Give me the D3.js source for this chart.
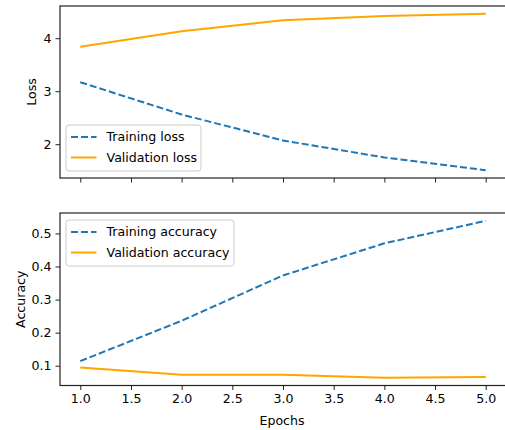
<!DOCTYPE html>
<html>
<head>
<meta charset="utf-8">
<script src="https://cdn.jsdelivr.net/npm/d3@7"></script>
<style>
  body { margin: 0; background: #fff; }
  svg { display: block; font-family: "DejaVu Sans", sans-serif; }
</style>
</head>
<body>
<div id="chart"></div>
<script>
// data
const epochs = [1, 2, 3, 4, 5];
const trainLoss = [3.17, 2.56, 2.07, 1.75, 1.51];
const valLoss = [3.84, 4.13, 4.34, 4.42, 4.46];
const trainAcc = [0.114, 0.236, 0.373, 0.470, 0.538];
const valAcc = [0.095, 0.073, 0.073, 0.064, 0.066];
const xTicks = [1.0, 1.5, 2.0, 2.5, 3.0, 3.5, 4.0, 4.5, 5.0];
const lossTicks = [2, 3, 4];
const accTicks = [0.1, 0.2, 0.3, 0.4, 0.5];

const W = 505, H = 430;
const left = 60, right = 506;
const fs = 12.6;
const blue = "#1f77b4", orange = "#ffa500";

const svg = d3.select("#chart").append("svg")
  .attr("width", W).attr("height", H);

const x = d3.scaleLinear().domain([0.8, 5.2]).range([left, right]);

function panel(top, bottom, yDomain, yTicks, yFmt, yLabel, series, legendItems, legendW, showX) {
  const y = d3.scaleLinear().domain(yDomain).range([bottom, top]);
  const g = svg.append("g");

  const line = d3.line().x((d, i) => x(epochs[i])).y(d => y(d));

  series.forEach(s => {
    g.append("path")
      .datum(s.values)
      .attr("fill", "none")
      .attr("stroke", s.color)
      .attr("stroke-width", 2)
      .attr("stroke-dasharray", s.dash ? "7,3" : null)
      .attr("d", line);
  });

  // y axis
  const ya = g.append("g")
    .attr("transform", `translate(${left},0)`)
    .call(d3.axisLeft(y).tickValues(yTicks).tickFormat(yFmt).tickSize(4.5).tickPadding(4).tickSizeOuter(0));
  ya.select(".domain").remove();
  ya.selectAll("line").attr("stroke", "#222");
  ya.selectAll("text").attr("font-size", fs).attr("fill", "#000").attr("font-family", "DejaVu Sans");

  // x axis
  const xa = g.append("g")
    .attr("transform", `translate(0,${bottom})`)
    .call(d3.axisBottom(x).tickValues(xTicks).tickFormat(showX ? d3.format(".1f") : "").tickSize(4.5).tickPadding(4).tickSizeOuter(0));
  xa.select(".domain").remove();
  xa.selectAll("line").attr("stroke", "#222");
  xa.selectAll("text").attr("font-size", fs).attr("fill", "#000").attr("font-family", "DejaVu Sans");

  // spines
  g.append("rect")
    .attr("x", left).attr("y", top)
    .attr("width", right - left).attr("height", bottom - top)
    .attr("fill", "none").attr("stroke", "#222").attr("stroke-width", 1.2);

  g.append("text")
    .attr("transform", `translate(${yLabel.x},${(top + bottom) / 2}) rotate(-90)`)
    .attr("text-anchor", "middle")
    .attr("dy", "0.35em")
    .attr("font-size", fs)
    .text(yLabel.text);

  // legend
  const lg = g.append("g").attr("transform", `translate(${legendItems.x},${legendItems.y})`);
  lg.append("rect")
    .attr("width", legendW).attr("height", 46)
    .attr("rx", 3)
    .attr("fill", "#fff").attr("fill-opacity", 0.8)
    .attr("stroke", "#cccccc").attr("stroke-width", 1);
  legendItems.items.forEach((it, i) => {
    const ly = 12 + i * 20.5;
    lg.append("line")
      .attr("x1", 5).attr("x2", 30.5)
      .attr("y1", ly).attr("y2", ly)
      .attr("stroke", it.color).attr("stroke-width", 2)
      .attr("stroke-dasharray", it.dash ? "7,3" : null);
    lg.append("text")
      .attr("x", 40.5).attr("y", ly)
      .attr("dy", "0.35em")
      .attr("font-size", fs)
      .text(it.label);
  });
}

panel(6, 178, [1.3625, 4.6075], lossTicks, d3.format("d"), { x: 32, text: "Loss" },
  [
    { values: trainLoss, color: blue, dash: true },
    { values: valLoss, color: orange, dash: false }
  ],
  { x: 66, y: 125, items: [
    { label: "Training loss", color: blue, dash: true },
    { label: "Validation loss", color: orange, dash: false }
  ] }, 135, false);

panel(213, 385.5, [0.0403, 0.5617], accTicks, d3.format(".1f"), { x: 21, text: "Accuracy" },
  [
    { values: trainAcc, color: blue, dash: true },
    { values: valAcc, color: orange, dash: false }
  ],
  { x: 66, y: 220, items: [
    { label: "Training accuracy", color: blue, dash: true },
    { label: "Validation accuracy", color: orange, dash: false }
  ] }, 168, true);

svg.append("text")
  .attr("x", (left + right) / 2 - 1)
  .attr("y", 421)
  .attr("text-anchor", "middle")
  .attr("dy", "0.35em")
  .attr("font-size", fs)
  .text("Epochs");
</script>
</body>
</html>
